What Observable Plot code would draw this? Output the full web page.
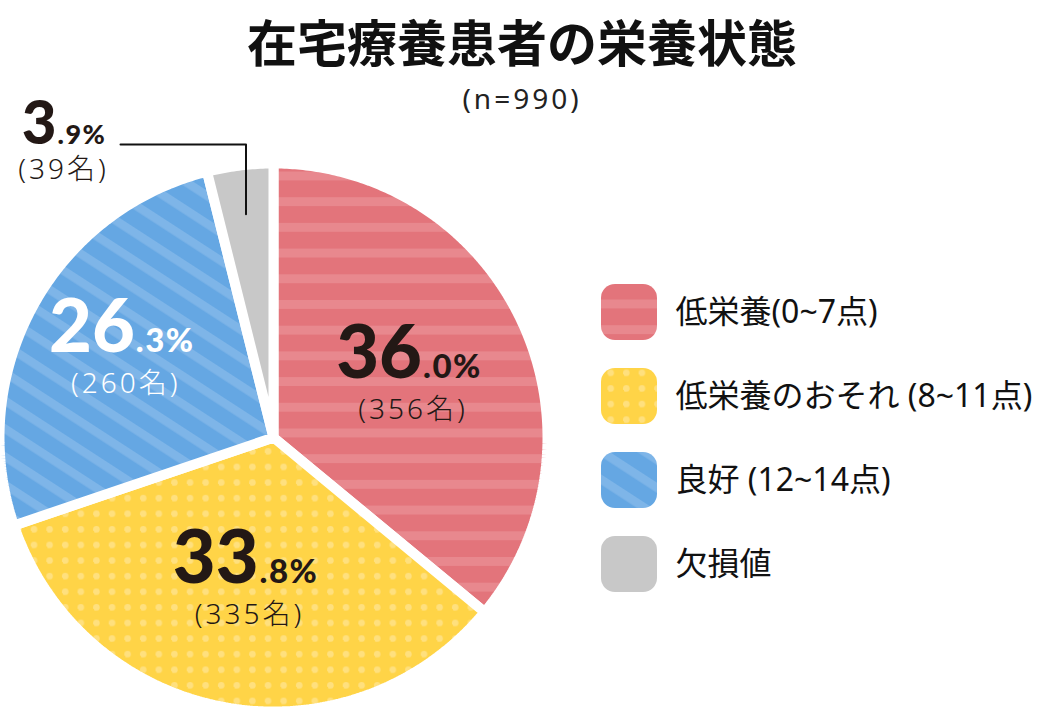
<!DOCTYPE html>
<html lang="ja">
<head>
<meta charset="utf-8">
<script src="https://cdn.jsdelivr.net/npm/d3@7"></script>
<script src="https://cdn.jsdelivr.net/npm/@observablehq/plot@0.6"></script>
<style>
  html, body { margin: 0; padding: 0; background: #fff; }
  #chart { position: relative; width: 1043px; height: 709px; }
  svg.defs { position: absolute; width: 0; height: 0; }
  g[aria-description="spaced"] text { letter-spacing: 3px; }
  g[aria-description="small"] text { letter-spacing: 1.5px; }
</style>
</head>
<body>
<svg class="defs" aria-hidden="true">
  <defs>
    <pattern id="pRed" patternUnits="userSpaceOnUse" width="26" height="25.7">
      <rect width="26" height="25.7" fill="#E3747B"/>
      <rect y="16.8" width="26" height="8.9" fill="#E8888E"/>
    </pattern>
    <pattern id="pYellow" patternUnits="userSpaceOnUse" width="15.6" height="15.6">
      <rect width="15.6" height="15.6" fill="#FFD447"/>
      <circle cx="2.3" cy="14.1" r="3.3" fill="#FFE07E"/>
      <circle cx="17.9" cy="14.1" r="3.3" fill="#FFE07E"/>
      <circle cx="2.3" cy="-1.5" r="3.3" fill="#FFE07E"/>
    </pattern>
    <pattern id="pBlue" patternUnits="userSpaceOnUse" width="40" height="23.5" patternTransform="rotate(33)">
      <rect width="40" height="23.5" fill="#65A7E3"/>
      <rect y="0" width="40" height="8.5" fill="#7EB5E8"/>
    </pattern>
  </defs>
</svg>
<div id="chart"></div>
<script>
// ---- data ----
const categories = ["低栄養(0~7点)", "低栄養のおそれ (8~11点)", "良好 (12~14点)", "欠損値"];
const percents = [36.0, 33.8, 26.3, 3.9];
const counts = [356, 335, 260, 39];
const totalN = 990;
const title = "在宅療養患者の栄養状態";

// ---- styles / layout ----
const fills = ["url(#pRed)", "url(#pYellow)", "url(#pBlue)", "#C8C8C8"];
const labelColors = ["#231815", "#231815", "#ffffff", "#231815"];
const W = 1043, H = 709;
const cx = 273, cy = 437, R = 274, gap = 10;
const labelRadius = [152, 143, 175, null];   // inside labels; last one is outside
const labelAngleShift = [0, 0, 2.6, 0];      // degrees
const numFont = "Lato, 'Open Sans', sans-serif";
const jpFont = "'Noto Sans CJK JP', 'Noto Sans', sans-serif";
const mixFont = "'Noto Sans', 'Noto Sans CJK JP', sans-serif";

const data = categories.map((c, i) => ({cat: c, pct: percents[i], n: counts[i], fill: fills[i], color: labelColors[i], i}));
const arcs = d3.pie().sort(null).value(d => d.pct)(data);
const polar = (a, r) => ({x: cx + r * Math.sin(a), y: cy - r * Math.cos(a)});

// slice polygons
const slicePts = [];
for (const a of arcs) {
  const steps = Math.max(8, Math.ceil((a.endAngle - a.startAngle) / 0.01));
  slicePts.push({...polar(0, 0), cat: a.data.cat, fill: a.data.fill});
  for (let k = 0; k <= steps; k++) {
    const t = a.startAngle + (a.endAngle - a.startAngle) * k / steps;
    slicePts.push({...polar(t, R), cat: a.data.cat, fill: a.data.fill});
  }
}

// label anchors
const mid = a => (a.startAngle + a.endAngle) / 2;
const inside = arcs.filter(a => labelRadius[a.data.i] != null).map(a => {
  const i = a.data.i;
  const p = polar(mid(a) + labelAngleShift[i] * Math.PI / 180, labelRadius[i]);
  const [intPart, decPart] = a.data.pct.toFixed(1).split(".");
  return {x: p.x, y: p.y, big: intPart, small: "." + decPart + "%", sub: `(${a.data.n}名)`, color: a.data.color};
});
// outside label with leader
const g = arcs[3];
const lp0 = polar(mid(g), 225);
const leaderEnd = {x: 120, y: 144};
const leader = [lp0, {x: lp0.x, y: leaderEnd.y}, leaderEnd];
const [gi, gd] = g.data.pct.toFixed(1).split(".");
const outside = [{x: leaderEnd.x - 64, y: leaderEnd.y - 1, big: gi, small: "." + gd + "%", sub: `(${g.data.n}名)`, color: g.data.color}];

// legend
const legend = data.map((d, i) => ({...d, row: i}));
const lgX = 601, lgY = 312, lgStep = 84, sw = 56;

const chart = Plot.plot({
  width: W, height: H, margin: 0,
  x: {type: "identity", axis: null}, y: {type: "identity", axis: null},
  color: {type: "identity"},
  style: {background: "#fff"},
  marks: [
    Plot.line(slicePts, {x: "x", y: "y", z: "cat", fill: "fill", stroke: "#fff", strokeWidth: gap, curve: "linear-closed", strokeLinejoin: "miter"}),
    // title
    Plot.text([title], {x: W / 2, y: 45, text: d => d, fontSize: 50, fontWeight: 700, fontFamily: jpFont, fill: "#111"}),
    Plot.text([`(n=${totalN})`], {x: W / 2, y: 100, text: d => d, fontSize: 28, fontFamily: mixFont, fontWeight: 400, fill: "#222", ariaDescription: "spaced"}),
    // inside labels
    Plot.text(inside, {x: d => d.x + 11, y: d => d.y + 5, text: "big", textAnchor: "end", lineAnchor: "bottom", fontSize: 74, fontWeight: 900, fontFamily: numFont, fill: "color"}),
    Plot.text(inside, {x: d => d.x + 12, y: d => d.y + 5, text: "small", textAnchor: "start", lineAnchor: "bottom", fontSize: 33, fontWeight: 900, fontFamily: numFont, fill: "color", ariaDescription: "small"}),
    Plot.text(inside, {x: d => d.x + 2, y: d => d.y + 37, text: "sub", fontSize: 28, fontWeight: 300, fontFamily: mixFont, fill: "color", ariaDescription: "spaced"}),
    // outside label
    Plot.line(leader, {x: "x", y: "y", stroke: "#111", strokeWidth: 2}),
    Plot.text(outside, {x: "x", y: "y", text: "big", textAnchor: "end", lineAnchor: "bottom", fontSize: 60, fontWeight: 900, fontFamily: numFont, fill: "color"}),
    Plot.text(outside, {x: d => d.x + 1, y: "y", text: "small", textAnchor: "start", lineAnchor: "bottom", fontSize: 27, fontWeight: 900, fontFamily: numFont, fill: "color", ariaDescription: "small"}),
    Plot.text(outside, {x: d => d.x + 7, y: d => d.y + 27, text: "sub", fontSize: 28, fontWeight: 300, fontFamily: mixFont, fill: "color", ariaDescription: "spaced"}),
    // legend
    Plot.rect(legend, {x1: lgX, x2: lgX + sw, y1: d => lgY + d.row * lgStep - sw / 2, y2: d => lgY + d.row * lgStep + sw / 2, fill: "fill", rx: 14}),
    Plot.text(legend, {x: lgX + sw + 18, y: d => lgY + d.row * lgStep, text: "cat", textAnchor: "start", fontSize: 32, fontFamily: mixFont, fill: "#111"})
  ]
});
document.getElementById("chart").appendChild(chart);
</script>
</body>
</html>
